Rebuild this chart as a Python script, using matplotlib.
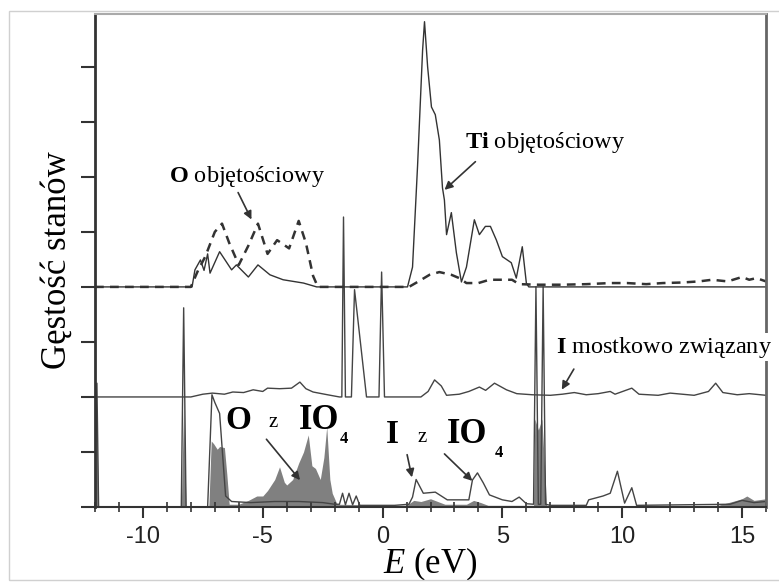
import matplotlib.pyplot as plt
from matplotlib.ticker import MultipleLocator
from matplotlib.patches import Rectangle

plt.rcParams['font.family'] = ['Liberation Serif', 'DejaVu Serif']
plt.rcParams['mathtext.fontset'] = 'custom'
plt.rcParams['mathtext.rm'] = 'Liberation Serif'
plt.rcParams['mathtext.it'] = 'Liberation Serif:italic'
plt.rcParams['mathtext.bf'] = 'Liberation Serif:bold'
plt.rcParams['axes.unicode_minus'] = False

# --- data (energy in eV, DOS in arbitrary units, curves already offset) ---
# top panel, baseline 4: O bulk (dashed)
o_bulk_e = [-12, -8.0, -7.7, -7.4, -7.0, -6.7, -6.4, -6.0, -5.6, -5.2, -4.8, -4.4,
            -3.9, -3.5, -3.2, -2.9, -2.7, 1.1, 1.5, 1.96, 2.37, 2.87, 3.2, 3.5,
            4.0, 4.46, 5.4, 5.7, 6.5, 7.5, 8.5, 9.5, 10.2, 11.0, 11.7, 12.5,
            13.2, 13.75, 14.4, 15.0, 15.3, 15.6, 16]
o_bulk_y = [4, 4, 4.3, 4.55, 5.0, 5.15, 4.8, 4.4, 4.75, 5.15, 4.6, 4.85,
            4.7, 5.2, 4.8, 4.2, 4.0, 4.0, 4.1, 4.22, 4.27, 4.22, 4.16, 4.07,
            4.07, 4.13, 4.13, 4.05, 4.04, 4.04, 4.05, 4.07, 4.07, 4.05, 4.07, 4.08,
            4.1, 4.13, 4.1, 4.18, 4.13, 4.16, 4.1]

# top panel, baseline 4: Ti bulk (solid)
ti_bulk_e = [-12, -7.95, -7.83, -7.6, -7.45, -7.3, -7.2, -6.8, -6.3, -6.1, -5.6,
             -5.2, -4.7, -4.15, -3.3, -2.75, 1.04, 1.25, 1.46, 1.67, 1.75, 1.88,
             2.04, 2.2, 2.37, 2.5, 2.58, 2.67, 2.87, 3.08, 3.29, 3.5, 3.83, 4.04,
             4.29, 4.5, 4.75, 5.0, 5.37, 5.58, 5.83, 6.0, 6.1, 16]
ti_bulk_y = [4, 4.0, 4.31, 4.49, 4.3, 4.6, 4.25, 4.64, 4.31, 4.4, 4.18,
             4.4, 4.22, 4.13, 4.07, 4.0, 4.0, 4.36, 6.2, 8.3, 8.82, 8.0,
             7.27, 7.13, 6.67, 5.8, 5.58, 4.95, 5.35, 4.62, 4.09, 4.36, 5.22, 4.95,
             5.1, 5.1, 4.85, 4.55, 4.44, 4.16, 4.73, 4.07, 4.0, 4.0]

# middle panel, baseline 2: bridging I
i_bridge_e = [-12, -8.0, -7.5, -7.1, -6.6, -6.25, -5.8, -5.4, -5.0, -4.8, -4.3,
              -3.8, -3.45, -3.2, -2.9, -2.3, -1.8, -1.7, -1.63, -1.55, -1.3,
              -1.17, -0.67, -0.15, -0.04, 0.08, 1.6, 1.9, 2.17, 2.45, 2.67, 3.2,
              3.6, 4.04, 4.3, 4.67, 5.17, 5.6, 6.25, 7.0, 7.5, 8.0, 8.5, 9.0,
              9.5, 9.7, 10.4, 10.7, 11.5, 12.0, 12.5, 13.0, 13.6, 13.9, 14.2,
              14.8, 15.3, 16]
i_bridge_y = [2, 2.0, 2.05, 2.07, 2.05, 2.09, 2.08, 2.13, 2.1, 2.16, 2.15,
              2.16, 2.27, 2.15, 2.09, 2.04, 2.0, 2.0, 5.27, 2.0, 2.0,
              3.95, 2.0, 2.0, 4.27, 2.0, 2.0, 2.1, 2.31, 2.2, 2.03, 2.05,
              2.1, 2.18, 2.12, 2.25, 2.13, 2.06, 2.04, 2.03, 2.05, 2.08, 2.04, 2.06,
              2.1, 2.05, 2.16, 2.05, 2.03, 2.07, 2.05, 2.03, 2.1, 2.25, 2.08,
              2.04, 2.06, 2.03]

# bottom panel, baseline 0: I from IO4 (line)
i_io4_e = [-12, -11.92, -11.85, -8.4, -8.3, -8.2, -7.3, -7.12, -7.0, -6.8, -6.55,
           -6.3, -5.5, -4.5, -3.5, -2.5, -2.0, -1.8, -1.67, -1.55, -1.4, -1.25,
           -1.1, -0.95, 0.5, 1.1, 1.25, 1.4, 1.7, 2.2, 2.7, 3.6, 3.75, 3.96,
           4.2, 4.46, 5.0, 5.4, 5.7, 6.0, 6.3, 6.4, 6.5, 6.6, 6.7, 6.8, 7.0,
           8.5, 8.6, 9.2, 9.5, 9.8, 10.1, 10.4, 10.6, 14.5, 15.0, 15.5, 16]
i_io4_y = [0, 2.25, 0, 0, 3.62, 0, 0, 2.04, 1.9, 1.7, 0.2,
           0.1, 0.08, 0.1, 0.1, 0.08, 0.05, 0.05, 0.25, 0.04, 0.25, 0.04,
           0.2, 0.03, 0.03, 0.05, 0.18, 0.5, 0.25, 0.27, 0.13, 0.13, 0.49, 0.62,
           0.44, 0.22, 0.13, 0.1, 0.18, 0.06, 0.05, 4.0, 0.05, 0.05, 4.0, 0.05, 0.03,
           0.03, 0.13, 0.2, 0.25, 0.65, 0.07, 0.35, 0.03, 0.05, 0.12, 0.08, 0.1]

# bottom panel, baseline 0: O from IO4 (filled)
o_io4_e = [-12, -11.92, -11.85, -8.4, -8.3, -8.2, -7.25, -7.15, -7.05, -6.9, -6.8,
           -6.6, -6.5, -6.4, -6.0, -5.6, -5.25, -5.0, -4.8, -4.5, -4.3, -4.1,
           -4.0, -3.75, -3.5, -3.3, -3.1, -2.95, -2.8, -2.6, -2.45, -2.33, -2.2,
           -2.1, -1.9, 1.0, 1.3, 1.6, 2.0, 2.3, 2.6, 3.5, 3.8, 4.1, 4.4, 6.3,
           6.35, 6.5, 6.65, 6.85, 14.0, 14.6, 15.0, 15.2, 15.5, 16]
o_io4_y = [0, 1.5, 0, 0, 1.9, 0, 0, 1.2, 1.15, 1.05, 1.1,
           1.08, 0.6, 0.05, 0.05, 0.12, 0.2, 0.2, 0.3, 0.5, 0.73, 0.45,
           0.4, 0.5, 0.8, 1.0, 1.31, 0.75, 0.7, 0.5, 0.9, 1.46, 0.5,
           0.25, 0.05, 0.03, 0.12, 0.1, 0.15, 0.1, 0.05, 0.05, 0.12, 0.08, 0.03, 0.03,
           1.6, 1.4, 1.6, 0.0, 0.03, 0.1, 0.15, 0.2, 0.12, 0.15]

line_col = '#333333'

fig = plt.figure(figsize=(7.79, 5.82), dpi=100)
fig.patches.append(Rectangle((9 / 779, 2 / 582), 1, 569 / 582, transform=fig.transFigure,
                             fill=False, edgecolor='#d0d0d0', lw=1.0))
ax = fig.add_axes([95 / 779, 75 / 582, 671 / 779, 493 / 582])

ax.fill_between(o_io4_e, 0, o_io4_y, color='#808080', lw=0)
ax.plot(i_io4_e, i_io4_y, color='#444444', lw=1.0)
ax.plot(i_bridge_e, i_bridge_y, color='#444444', lw=1.0)
ax.plot(ti_bulk_e, ti_bulk_y, color=line_col, lw=1.0)
ax.plot(o_bulk_e, o_bulk_y, color=line_col, lw=1.8, dashes=(3.5, 2.5))

ax.set_xlim(-12, 16)
ax.set_ylim(0, 8.96)
ax.xaxis.set_major_locator(MultipleLocator(5))
ax.xaxis.set_minor_locator(MultipleLocator(1))
ax.yaxis.set_major_locator(MultipleLocator(1))
ax.set_yticklabels([])
ax.tick_params(axis='y', direction='out', length=10, width=1.5, color='#333333')
ax.tick_params(axis='x', which='major', direction='out', length=8, width=1.5,
               color='#333333', labelsize=17, pad=6)
ax.tick_params(axis='x', which='minor', direction='inout', length=7, width=1.2,
               color='#333333')
for lab in ax.get_xticklabels():
    lab.set_fontfamily('Liberation Sans')
    lab.set_color('#222222')

ax.spines['left'].set_linewidth(2)
ax.spines['left'].set_color('#333333')
ax.spines['bottom'].set_linewidth(1.5)
ax.spines['bottom'].set_color('#333333')
ax.spines['top'].set_color('#aaaaaa')
ax.spines['top'].set_linewidth(1.5)
ax.spines['right'].set_color('#666666')
ax.spines['right'].set_linewidth(2)

ax.set_ylabel('Gęstość stanów', fontsize=25, labelpad=2)
ax.set_xlabel(r'$E$ (eV)', fontsize=25, labelpad=-2)

# annotations
arrow = dict(arrowstyle='-|>', color='#333333', lw=1.2, mutation_scale=12)
ax.text(-8.9, 5.9, r'$\mathbf{O}$ objętościowy', fontsize=17.5)
ax.annotate('', xy=(-5.42, 5.18), xytext=(-6.08, 5.76), arrowprops=arrow)

ax.text(3.42, 6.53, r'$\mathbf{Ti}$ objętościowy', fontsize=17.5)
ax.annotate('', xy=(2.5, 5.73), xytext=(3.96, 6.31), arrowprops=arrow)

ax.text(7.25, 2.8, r'$\mathbf{I}$ mostkowo związany', fontsize=17.5, zorder=5,
        bbox=dict(facecolor='white', edgecolor='none', pad=1))
ax.annotate('', xy=(7.42, 2.09), xytext=(8.04, 2.55), arrowprops=arrow)

ax.text(-6.55, 1.42, 'O', fontsize=24, fontweight='bold')
ax.text(-4.75, 1.45, 'z', fontsize=15)
ax.text(-3.5, 1.42, 'IO', fontsize=25, fontweight='bold')
ax.text(-1.8, 1.16, '4', fontsize=12, fontweight='bold')
ax.annotate('', xy=(-3.37, 0.45), xytext=(-4.92, 1.27), arrowprops=arrow)

ax.text(0.15, 1.16, 'I', fontsize=24, fontweight='bold')
ax.text(1.45, 1.19, 'z', fontsize=15)
ax.text(2.7, 1.16, 'IO', fontsize=25, fontweight='bold')
ax.text(4.7, 0.91, '4', fontsize=12, fontweight='bold')
ax.annotate('', xy=(1.25, 0.49), xytext=(1.0, 1.0), arrowprops=arrow)
ax.annotate('', xy=(3.83, 0.44), xytext=(2.5, 1.0), arrowprops=arrow)

fig.savefig('out.png', dpi=100)
